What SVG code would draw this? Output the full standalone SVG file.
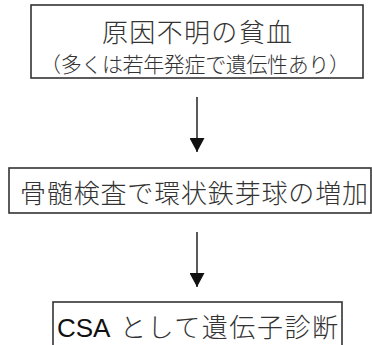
<svg xmlns="http://www.w3.org/2000/svg" width="372" height="345" viewBox="0 0 372 345">
<style>
.box{fill:#fff;stroke:#333;stroke-width:1.6}
.jp{font-family:"Noto Sans CJK JP","Noto Sans CJK SC",sans-serif;fill:#333;font-weight:300}
.lat{font-family:"Liberation Sans",Arial,sans-serif;fill:#111}
.conn{stroke:#222;stroke-width:1.5;fill:none;marker-end:url(#ah)}
</style>
<defs>
<marker id="ah" markerUnits="userSpaceOnUse" markerWidth="15" markerHeight="15" refX="14" refY="7.5" orient="auto" viewBox="0 0 15 15">
<path d="M0,0 L14,7.5 L0,15 z" fill="#111"/>
</marker>
</defs>
<rect width="372" height="345" fill="#fff"/>
<g id="connectors">
<line class="conn" x1="197" y1="97" x2="197" y2="152"/>
<line class="conn" x1="197" y1="232" x2="197" y2="287"/>
</g>
<g id="node1">
<rect class="box" x="31" y="5" width="332" height="73"/>
<text class="jp" x="102" y="42" font-size="26" textLength="190" lengthAdjust="spacing">原因不明の貧血</text>
<text class="jp" x="40" y="72" font-size="21" textLength="310" lengthAdjust="spacing">（多くは若年発症で遺伝性あり）</text>
</g>
<g id="node2">
<rect class="box" x="9" y="168" width="362" height="45"/>
<text class="jp" x="20" y="203" font-size="26" textLength="348" lengthAdjust="spacing">骨髄検査で環状鉄芽球の増加</text>
</g>
<g id="node3">
<rect class="box" x="53" y="302" width="289" height="60"/>
<text x="57" y="337" font-size="26"><tspan class="lat">CSA</tspan><tspan class="jp" x="120" textLength="218" lengthAdjust="spacing">として遺伝子診断</tspan></text>
</g>
</svg>
